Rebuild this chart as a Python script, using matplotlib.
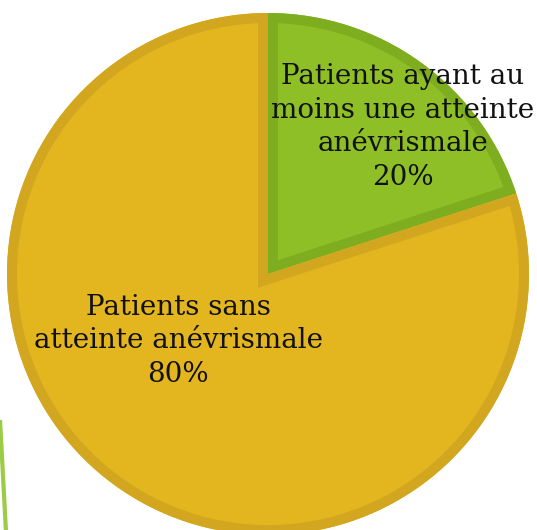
import matplotlib
matplotlib.use("Agg")
import matplotlib.pyplot as plt
from matplotlib.patches import Wedge

labels = ["Patients ayant au\nmoins une atteinte\nanévrismale\n20%",
          "Patients sans\natteinte anévrismale\n80%"]
values = [20, 80]
fill_colors = ["#8EBF27", "#E3B61F"]
edge_colors = ["#7EAE20", "#D2A61F"]

W, H = 537, 530
fig = plt.figure(figsize=(W / 100, H / 100), dpi=100)
ax = fig.add_axes([0, 0, 1, 1])

cx, cy, r = 268, H - 274, 261
wedges, _ = ax.pie(values, startangle=90, counterclock=False, colors=fill_colors,
                   center=(cx, cy), radius=r, wedgeprops=dict(linewidth=0))
ax.set_xlim(0, W)
ax.set_ylim(0, H)
ax.set_aspect("equal")
ax.axis("off")

for w, ec in zip(wedges, edge_colors):
    b = Wedge(w.center, w.r, w.theta1, w.theta2, facecolor="none",
              edgecolor=ec, linewidth=14.4, joinstyle="miter")
    ax.add_patch(b)
    clip = Wedge(w.center, w.r, w.theta1, w.theta2, transform=ax.transData)
    b.set_clip_path(clip)

# decorative green line at bottom-left
ax.plot([0, 6], [H - 420, H - 532], color="#9CCB45", lw=3, solid_capstyle="butt")

font = dict(family="DejaVu Serif", fontsize=20, ha="center", va="center",
            linespacing=1.33, color="#111111")
ax.text(403, H - 127, labels[0], **font)
ax.text(178, H - 341, labels[1], **font)

fig.savefig("out.png", dpi=100)
